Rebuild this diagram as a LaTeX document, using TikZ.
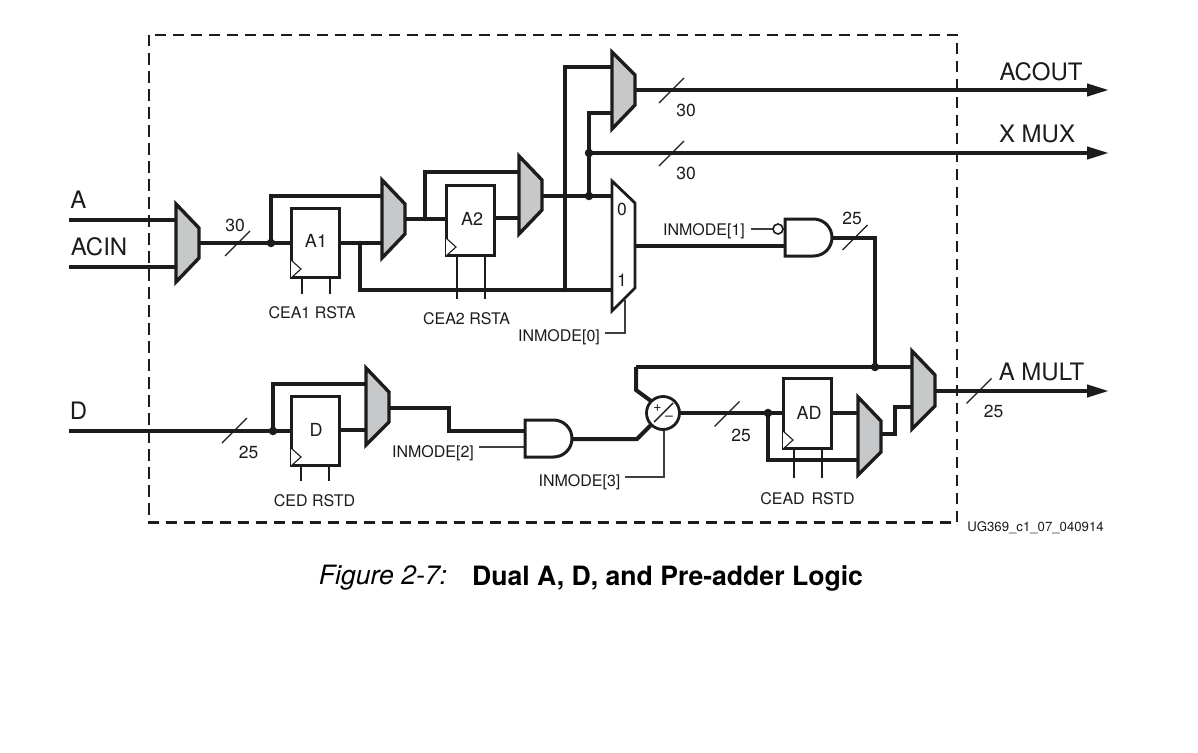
\documentclass[tikz,border=0pt]{standalone}
\usepackage{fontspec}
\setmainfont{TeX Gyre Heros}
\usetikzlibrary{arrows.meta}
\definecolor{ink}{HTML}{1C1C1C}
\definecolor{muxgray}{HTML}{C6C8C9}
\newcommand{\fsz}[1]{\fontsize{#1}{#1}\selectfont}
\tikzset{
  bus/.style={line width=4pt,draw=ink,line join=miter},
  sig/.style={line width=1.6pt,draw=ink!85},
  ticks/.style={line width=1.3pt,draw=ink},
  muxg/.style={line width=3.4pt,draw=ink,fill=muxgray,line join=miter},
  muxw/.style={line width=2.8pt,draw=ink,fill=white,line join=miter},
  regbox/.style={draw=ink,line width=2.8pt,fill=white,minimum width=48pt,minimum height=69.5pt,inner sep=0pt},
  gate/.style={line width=3pt,draw=ink,fill=white},
  dotj/.style={circle,fill=ink,inner sep=0pt,minimum size=8.5pt},
  lab/.style={inner sep=0pt,text=ink,font=\fsz{16}},
  num/.style={inner sep=0pt,text=ink,font=\fsz{17.5}},
  big/.style={inner sep=0pt,text=ink,font=\fsz{24}},
  reglab/.style={inner sep=0pt,text=ink,font=\fsz{18}},
  ck/.style={line width=1.1pt,draw=ink,fill=white},
  arr/.style={bus,-{Triangle[length=22pt,width=12pt]}},
}
\newcommand{\busmark}[2]{\draw[ticks] ({#1-12.5},{#2+12.5}) -- ({#1+12.5},{#2-12.5});}
\newcommand{\mux}[7]{\draw[#2] (#3,#4) -- ({#3+23},#5) -- ({#3+23},#6) -- (#3,#7) -- cycle;}
\newcommand{\andgate}[3]{\draw[gate] (#1,#2) -- ({#1+28.5},#2) .. controls ({#1+38.7},#2) and ({#1+47},{#2+8.3}) .. ({#1+47},{#2+18.5}) .. controls ({#1+47},{#2+28.7}) and ({#1+38.7},{#2+37}) .. ({#1+28.5},{#2+37}) -- (#1,{#2+37}) -- cycle;}
\begin{document}
\begin{tikzpicture}[x=1pt,y=-1pt]
\useasboundingbox[fill=white] (0,0) rectangle (1198,752);
% named end points
\coordinate (Ain) at (69,220); \coordinate (ACINin) at (69,267); \coordinate (Din) at (69,431);
\coordinate (m1a) at (176,220); \coordinate (m1b) at (176,267); \coordinate (m1o) at (199,243);
\coordinate (j1) at (271,243); \coordinate (m2a) at (382,196); \coordinate (m2b) at (382,243);
\coordinate (m2o) at (405,219); \coordinate (j2) at (425,219); \coordinate (j1t) at (271,196);
\coordinate (j2t) at (425,172); \coordinate (m3a) at (519,172); \coordinate (m3b) at (519,218);
\coordinate (m3o) at (542,196); \coordinate (t0) at (565,196); \coordinate (j3) at (589,196);
\coordinate (m5a) at (612,196); \coordinate (m5b) at (612,290); \coordinate (t1) at (360,243);
\coordinate (t2) at (360,290); \coordinate (t3) at (565,290); \coordinate (t4) at (565,67);
\coordinate (m4a) at (612,67); \coordinate (m4b) at (612,113); \coordinate (t5) at (589,113);
\coordinate (j4) at (589,153); \coordinate (m4o) at (635,90); \coordinate (ac) at (1109,90);
\coordinate (xm) at (1109,153); \coordinate (m5o) at (635,246);
\coordinate (g1o) at (832,237.5); \coordinate (t6) at (875,237.5); \coordinate (j5) at (875,367);
\coordinate (m6a) at (912,367); \coordinate (t7) at (636,367); \coordinate (t8) at (636,390);
\coordinate (m6b) at (912,407); \coordinate (t9) at (895,407); \coordinate (t10) at (895,434);
\coordinate (m7o) at (881,434); \coordinate (m6o) at (935,391); \coordinate (am) at (1109,391);
\coordinate (j6) at (768,413); \coordinate (t11) at (768,460); \coordinate (m7b) at (858,460);
\coordinate (m7a) at (858,413); \coordinate (j7) at (273,431); \coordinate (j7t) at (273,384);
\coordinate (m8a) at (366,384); \coordinate (m8b) at (366,430); \coordinate (m8o) at (389,408);
\coordinate (t12) at (449,408); \coordinate (t13) at (449,431); \coordinate (g2a) at (525,431);
\coordinate (g2b) at (525,447); \coordinate (g2o) at (572,439); \coordinate (t14) at (637,439);
\coordinate (g1a) at (785,246); \coordinate (g1b) at (785,229);
% connectors
\coordinate (A1W) at (291,243); \coordinate (A1E) at (340,243);
\coordinate (A2W) at (446,219); \coordinate (A2E) at (495,218);
\coordinate (DW) at (291,431); \coordinate (DE) at (340,430);
\coordinate (ADW) at (783,413); \coordinate (ADE) at (832,413);
\coordinate (add) at (663,413); \coordinate (addE) at (680,413);
\coordinate (addNW) at (651,401); \coordinate (addSW) at (651,425);
\draw[bus] (Ain) -- (m1a);
\draw[bus] (ACINin) -- (m1b);
\draw[bus] (m1o) -- (A1W);
\draw[bus] (j1) -- (j1t) -- (m2a);
\draw[bus] (A1E) -- (m2b);
\draw[bus] (t1) -- (t2) -- (m5b);
\draw[bus] (m2o) -- (A2W);
\draw[bus] (j2) -- (j2t) -- (m3a);
\draw[bus] (A2E) -- (m3b);
\draw[bus] (m3o) -- (m5a);
\draw[bus] (t3) -- (t4) -- (m4a);
\draw[bus] (j3) -- (t5) -- (m4b);
\draw[arr] (j4) -- (xm);
\draw[arr] (m4o) -- (ac);
\draw[bus] (m5o) -- (g1a);
\draw[bus] (g1o) -- (t6) -- (j5);
\draw[bus] (t7) -- (m6a);
\draw[bus] (t7) -- (t8) -- (addNW);
\draw[bus] (g2o) -- (t14) -- (addSW);
\draw[bus] (addE) -- (ADW);
\draw[bus] (j6) -- (t11) -- (m7b);
\draw[bus] (ADE) -- (m7a);
\draw[bus] (m7o) -- (t10) -- (t9) -- (m6b);
\draw[arr] (m6o) -- (am);
\draw[bus] (Din) -- (DW);
\draw[bus] (j7) -- (j7t) -- (m8a);
\draw[bus] (DE) -- (m8b);
\draw[bus] (m8o) -- (t12) -- (t13) -- (g2a);
\draw[sig] (g2b) -- (479,447);
\draw[sig] (g1b) -- (751,229);
\draw[sig] (605,333) -- (625,333) -- (625,300);
\draw[sig] (625,477) -- (664,477) -- (664,430);
\foreach \xa/\ya/\yb in {302/278/294,330/278/294,457/256/299,485/256/299,301/466/481,329/466/481,794/449/478,822/449/478}
  {\draw[ticks] (\xa,\ya) -- (\xa,\yb);}
% registers and adder
\node[regbox] (A1) at (315.5,243) {};
\node[regbox] (A2) at (470.5,220.5) {};
\node[regbox] (Dr) at (315.5,431) {};
\node[regbox] (ADr) at (807.5,413.5) {};
\node[reglab] (A1t) at (316,241) {A1};
\node[reglab] (A2t) at (472,219) {A2};
\node[reglab] (Dt) at (316,429.5) {D};
\node[reglab] (ADt) at (809,413) {AD};
\foreach \xa/\ya in {291/260,446/238,291/448,783/431}
  {\draw[ck] (\xa,\ya) -- ({\xa+10},{\ya+9}) -- (\xa,{\ya+18});}
\node[circle,draw=ink,line width=2.8pt,fill=white,minimum size=33pt,inner sep=0pt] (addc) at (add) {};
\draw[line width=1.4pt,draw=ink] (654,422) -- (673,403);
\node[inner sep=0pt,text=ink,font=\fsz{14}] (plus) at (657.5,408.5) {+};
\node[inner sep=0pt,text=ink,font=\fsz{14}] (minus) at (669,418) {–};
% muxes
\mux{m1}{muxg}{176}{204}{228}{258}{282}
\mux{m2}{muxg}{382}{180}{204}{234}{258}
\mux{m3}{muxg}{519}{156}{180}{210}{234}
\mux{m4}{muxg}{612}{52}{75}{105}{129}
\mux{m5}{muxw}{612}{181}{203}{288}{311}
\mux{m6}{muxg}{912}{351}{375}{406}{429}
\mux{m7}{muxg}{858}{397}{421}{452}{475}
\mux{m8}{muxg}{366}{368}{392}{422}{445}
% gates
\andgate{785}{219}{g1}
\andgate{525}{420}{g2}
\node[circle,draw=ink,line width=1.6pt,fill=white,minimum size=10pt,inner sep=0pt] (bub) at (778,229) {};
% junctions
\foreach \p in {j1,j3,j4,j5,j6,j7}{\node[dotj] at (\p) {};}
\foreach \p in {j2,t0,t3,t1}{\node[dotj,minimum size=4.5pt] at (\p) {};}
% bus marks
\busmark{237.5}{243.5}
\busmark{671.5}{90.5}
\busmark{671.5}{153.5}
\busmark{234.5}{430.5}
\busmark{727}{414}
\busmark{855}{237.5}
\busmark{979}{391}
% texts
\node[big] (tA) at (78.5,200) {A};
\node[big] (tACIN) at (99,247) {ACIN};
\node[big] (tD) at (78.5,411) {D};
\node[big] (tACOUT) at (1041,72) {ACOUT};
\node[big] (tXMUX) at (1037,134) {X MUX};
\node[big] (tAMULT) at (1041.5,372) {A MULT};
\node[num] (n1) at (235,225) {30};
\node[num] (n2) at (686,110.5) {30};
\node[num] (n3) at (686,173.5) {30};
\node[num] (n4) at (852,218) {25};
\node[num] (n5) at (993.5,411) {25};
\node[num] (n6) at (741,435) {25};
\node[num] (n7) at (248.5,452) {25};
\node[num] (n8) at (622,209) {0};
\node[num] (n9) at (622,280) {1};
\node[lab] (l1) at (704,231) {INMODE[1]};
\node[lab] (l0) at (559,337) {INMODE[0]};
\node[lab] (l2) at (433,453) {INMODE[2]};
\node[lab] (l3) at (579.5,482) {INMODE[3]};
\node[lab] (c1) at (312,313) {CEA1 RSTA};
\node[lab] (c2) at (466.5,318.5) {CEA2 RSTA};
\node[lab] (c3) at (314.5,500.5) {CED RSTD};
\node[lab] (c4) at (807.5,498.5) {CEAD\hspace{2.5pt} RSTD};
\node[inner sep=0pt,text=ink,font=\fsz{13.2}] (ug) at (1035.5,527.5) {UG369\_c1\_07\_040914};
\node[inner sep=0pt,text=black,font=\fsz{26.6}\itshape] (figa) at (383,578) {Figure 2-7:};
\node[inner sep=0pt,text=black,font=\fsz{26.6}\bfseries] (figb) at (667.5,578) {Dual A, D, and Pre-adder Logic};
% dashed frame
\draw[line width=2.6pt,draw=ink,dash pattern=on 11.5pt off 6.5pt] (149,35) rectangle (957,522.5);
\end{tikzpicture}
\end{document}
